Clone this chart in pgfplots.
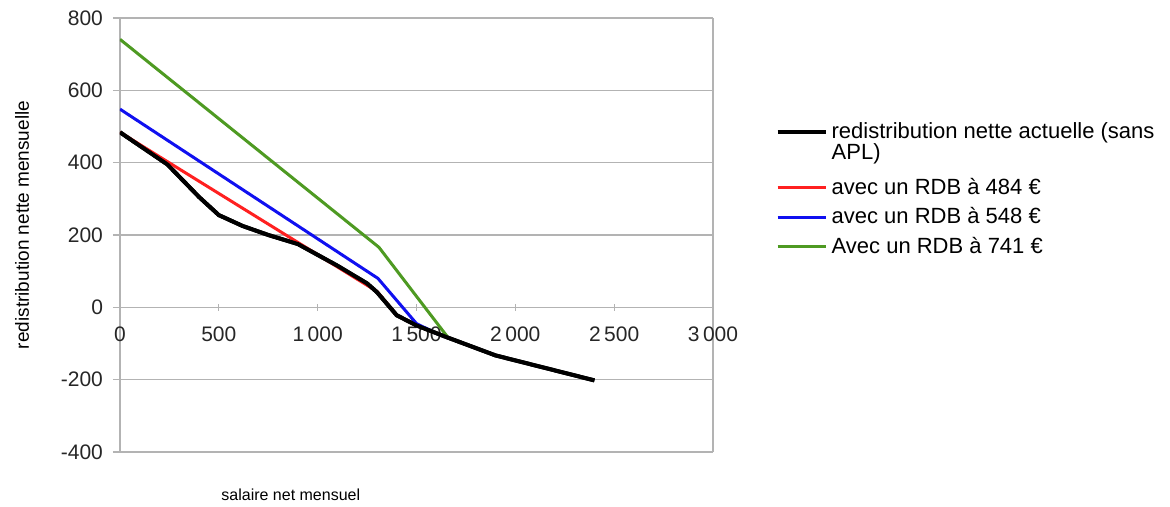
\documentclass[border=0pt]{standalone}
\usepackage{fontspec}
\setmainfont{Liberation Sans}
\usepackage{pgfplots}
\pgfplotsset{compat=1.18}
\definecolor{gridc}{HTML}{B3B3B3}
\definecolor{cred}{HTML}{FF2020}
\definecolor{cblue}{HTML}{1010F0}
\definecolor{cgreen}{HTML}{4E9A22}
\begin{document}
\begin{tikzpicture}
\begin{axis}[
  scale only axis, width=296.5pt, height=217pt,
  xmin=0, xmax=3000, ymin=-400, ymax=800,
  axis x line=middle, axis y line=box, ytick pos=left,
  hide obscured x ticks=false,
  x axis line style={-},
  xtick={0,500,...,3000}, ytick={-400,-200,...,800},
  ymajorgrids, grid style={gridc, line width=0.6pt},
  axis line style={gridc, line width=0.6pt},
  tick style={gridc, line width=0.6pt},
  major tick length=3.5pt,
  ytick align=outside, xtick align=center,
  /pgf/number format/assume math mode=true,
  /pgf/number format/1000 sep={\,},
  tick label style={font=\fontsize{10.5}{12}\selectfont, text=black!85},
  yticklabel style={xshift=-1.5pt},
  xticklabel style={yshift=-4.5pt},
  xlabel={salaire net mensuel},
  ylabel={redistribution nette mensuelle},
  xlabel style={at={(axis description cs:0.288,-0.099)}, anchor=center, font=\fontsize{8}{10}\selectfont},
  ylabel style={at={(axis description cs:-0.165,0.523)}, anchor=center, font=\fontsize{9.5}{11}\selectfont},
  legend image code/.code={\draw[#1] (0pt,0pt) -- (24pt,0pt);},
  legend style={draw=none, fill=none, at={(axis description cs:1.105,0.77)}, anchor=north west,
    font=\fontsize{11}{10.5}\selectfont, cells={align=left, anchor=west}, row sep=1.2pt, inner sep=0pt},
  legend cell align=left,
]
\addplot[black, line width=2pt,
  legend image code/.code={\draw[##1] (0pt,6.5pt) -- (24pt,6.5pt);}]
  coordinates {(0,484) (240,395) (400,305) (500,255) (620,225) (750,200) (900,175) (1100,115) (1250,66) (1300,42) (1400,-22) (1500,-50) (1650,-82) (1900,-133) (2400,-202)};
\addlegendentry{redistribution nette actuelle (sans\\APL)\\[-7.7pt]\mbox{}}
\addplot[cred, line width=1.5pt] coordinates {(0,484) (1300,44) (1400,-22) (1500,-50) (1650,-82)};
\addlegendentry{avec un RDB à 484 €}
\addplot[cblue, line width=1.5pt] coordinates {(0,548) (1305,80) (1500,-45) (1600,-72) (1650,-82)};
\addlegendentry{avec un RDB à 548 €}
\addplot[cgreen, line width=1.5pt] coordinates {(0,741) (1310,166) (1660,-84)};
\addlegendentry{Avec un RDB à 741 €}
\addplot[black, line width=2pt, forget plot] coordinates {(0,484) (240,395) (400,305) (500,255) (620,225) (750,200) (900,175) (1100,115) (1250,66) (1300,42) (1400,-22) (1500,-50) (1650,-82) (1900,-133) (2400,-202)};
\coordinate (ll) at (rel axis cs:0,0);
\end{axis}
\pgfresetboundingbox
\path (ll) ++(-60pt,-27.5pt) rectangle ++(585pt,253.5pt);
\end{tikzpicture}
\end{document}
